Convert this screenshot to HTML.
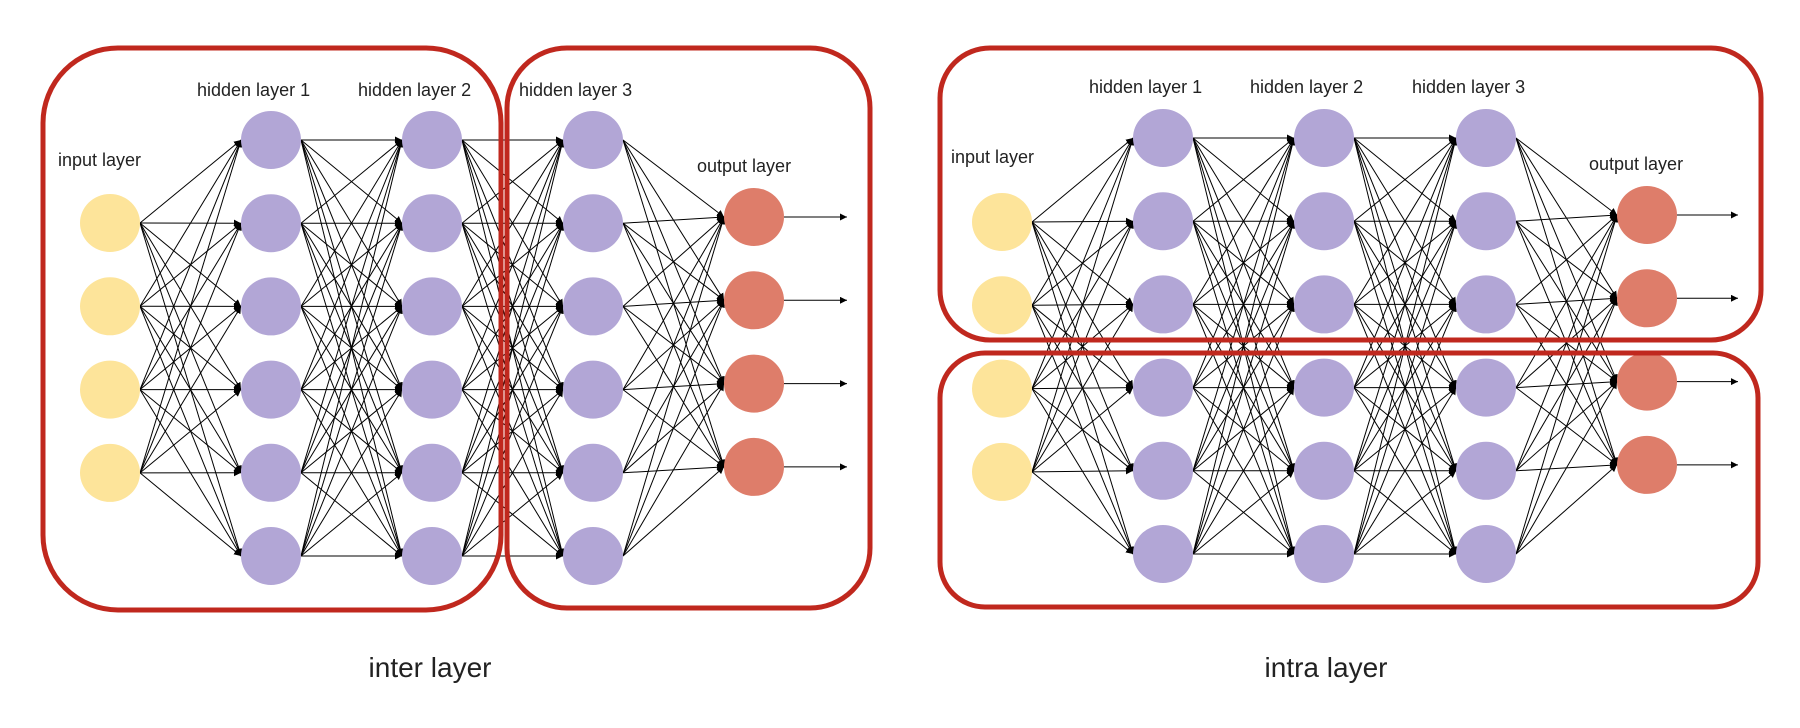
<!DOCTYPE html>
<html><head><meta charset="utf-8"><style>
html,body{margin:0;padding:0;background:#fff;}
svg{display:block;}
text{font-family:"Liberation Sans",sans-serif;fill:#222;}
</style></head><body>
<svg id="s" width="1800" height="728" viewBox="0 0 1800 728" xmlns="http://www.w3.org/2000/svg">
<defs>
<marker id="a" viewBox="0 0 10 10" refX="10" refY="5" markerWidth="7" markerHeight="7" markerUnits="userSpaceOnUse" orient="auto"><path d="M0,0L10,5L0,10z" fill="#000"/></marker>
</defs>
<g id="edges" stroke="#000" stroke-width="1" fill="none"></g>
<g id="nodes"></g>
<g fill="none" stroke="#c0281e" stroke-width="5">
<rect x="43" y="48" width="458" height="562" rx="75" ry="75"/>
<rect x="507" y="48" width="363" height="560" rx="60" ry="60"/>
<rect x="940" y="48" width="821" height="292" rx="50" ry="50"/>
<rect x="940" y="353" width="818" height="254" rx="45" ry="45"/>
</g>
<g font-size="18">
<text x="58" y="166">input layer</text>
<text x="197" y="96">hidden layer 1</text>
<text x="358" y="96">hidden layer 2</text>
<text x="519" y="96">hidden layer 3</text>
<text x="697" y="172">output layer</text>
<text x="951" y="163">input layer</text>
<text x="1089" y="93">hidden layer 1</text>
<text x="1250" y="93">hidden layer 2</text>
<text x="1412" y="93">hidden layer 3</text>
<text x="1589" y="170">output layer</text>
</g>
<g font-size="28" text-anchor="middle">
<text x="430" y="677">inter layer</text>
<text x="1326" y="677">intra layer</text>
</g>
</svg>
<script>
(function(){
var NS="http://www.w3.org/2000/svg";
var E=document.getElementById("edges"),N=document.getElementById("nodes");
function net(ix,hx,ox,iy0,hy0,oy0,aend){
  var layers=[];
  layers.push({x:ix,ys:[0,1,2,3].map(function(i){return iy0+i*83.3;}),c:"#fde49a"});
  hx.forEach(function(x){layers.push({x:x,ys:[0,1,2,3,4,5].map(function(i){return hy0+i*83.2;}),c:"#b2a6d6"});});
  layers.push({x:ox,ys:[0,1,2,3].map(function(i){return oy0+i*83.3;}),c:"#de7d6a"});
  var rx=30,ry=29;
  for(var l=0;l<layers.length-1;l++){
    var A=layers[l],B=layers[l+1];
    A.ys.forEach(function(y1){B.ys.forEach(function(y2){
      var ln=document.createElementNS(NS,"line");
      ln.setAttribute("x1",A.x+rx);ln.setAttribute("y1",y1);
      ln.setAttribute("x2",B.x-rx);ln.setAttribute("y2",y2);
      ln.setAttribute("marker-end","url(#a)");E.appendChild(ln);
    });});
  }
  var O=layers[layers.length-1];
  O.ys.forEach(function(y){
    var ln=document.createElementNS(NS,"line");
    ln.setAttribute("x1",O.x+rx);ln.setAttribute("y1",y);
    ln.setAttribute("x2",aend);ln.setAttribute("y2",y);
    ln.setAttribute("marker-end","url(#a)");E.appendChild(ln);
  });
  layers.forEach(function(L){L.ys.forEach(function(y){
    var e=document.createElementNS(NS,"ellipse");
    e.setAttribute("cx",L.x);e.setAttribute("cy",y);
    e.setAttribute("rx",rx);e.setAttribute("ry",ry);
    e.setAttribute("fill",L.c);N.appendChild(e);
  });});
}
net(110,[271,432,593],754,223,140,217,847);
net(1002,[1163,1324,1486],1647,222,138,215,1738);
})();
</script>
</body></html>
